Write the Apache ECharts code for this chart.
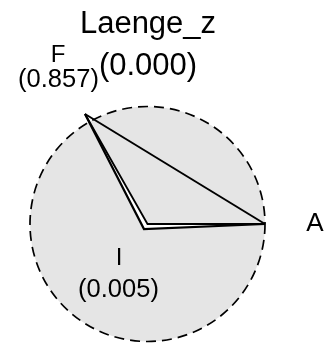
<!DOCTYPE html>
<html>
<head>
<meta charset="utf-8">
<script src="https://cdn.jsdelivr.net/npm/echarts@6/dist/echarts.min.js"></script>
<style>
html,body{margin:0;padding:0;background:#fff;}
#main{width:326px;height:343px;}
</style>
</head>
<body>
<div id="main"></div>
<script>
// ---- data (normalized layout: unit circle centred at origin) ----
const nodeNames  = ['Laenge_z', 'F', 'I', 'A'];
const nodeValues = ['0.000', '0.857', '0.005', null];
const circleNode = [0, 0, 1];                 // x, y, radius
const pathOuter  = [[-0.532, 0.936], [-0.030, -0.043], [1.0, 0.0]]; // F -> I' -> A
const pathInner  = [[-0.532, 0.936], [0.0, 0.0], [1.0, 0.0]];       // F -> I  -> A
const pathDirect = [[-0.532, 0.936], [1.0, 0.0]];                   // F -> A

const chart = echarts.init(document.getElementById('main'), null, {renderer: 'canvas'});
const FONT = 'Liberation Sans, Arial, Helvetica, sans-serif';

const option = {
  backgroundColor: '#ffffff',
  animation: false,
  grid: {left: 0, right: 0, top: 0, bottom: 0},
  xAxis: {type: 'value', min: -1.2553, max: 1.5191, show: false},
  yAxis: {type: 'value', min: -1.0128, max: 1.9064, show: false},
  series: [
    {
      type: 'custom',
      coordinateSystem: 'cartesian2d',
      data: [circleNode],
      silent: true,
      z: 1,
      renderItem: function (params, api) {
        const c = api.coord([api.value(0), api.value(1)]);
        const r = api.size([api.value(2), 0])[0];
        return {
          type: 'circle',
          shape: {cx: c[0], cy: c[1], r: r},
          style: {fill: '#e5e5e5', stroke: '#000', lineWidth: 1.7, lineDash: [10, 6]}
        };
      }
    },
    {
      type: 'custom',
      coordinateSystem: 'cartesian2d',
      data: [[0, 0]],
      silent: true,
      z: 2,
      renderItem: function (params, api) {
        const outer = pathOuter.map(p => api.coord(p));
        const inner = pathInner.map(p => api.coord(p));
        const direct = pathDirect.map(p => api.coord(p));
        return {
          type: 'group',
          children: [
            {type: 'polygon', shape: {points: [outer[0], outer[1], outer[2], inner[1]]},
             style: {fill: '#ffffff', stroke: null}},
            {type: 'polyline', shape: {points: outer}, style: {fill: null, stroke: '#000', lineWidth: 2.2, lineJoin: 'miter'}},
            {type: 'polyline', shape: {points: inner}, style: {fill: null, stroke: '#000', lineWidth: 1.8, lineJoin: 'miter'}},
            {type: 'polyline', shape: {points: direct}, style: {fill: null, stroke: '#000', lineWidth: 2}}
          ]
        };
      }
    }
  ],
  graphic: [
    {type: 'text', x: 148, y: 24, z: 10,
     style: {text: nodeNames[0], font: '31px ' + FONT, fill: '#000', textAlign: 'center', textVerticalAlign: 'middle'}},
    {type: 'text', x: 148, y: 66.5, z: 10,
     style: {text: '(' + nodeValues[0] + ')', font: '31px ' + FONT, fill: '#000', textAlign: 'center', textVerticalAlign: 'middle'}},
    {type: 'text', x: 58, y: 55, z: 10,
     style: {text: nodeNames[1], font: '24px ' + FONT, fill: '#000', textAlign: 'center', textVerticalAlign: 'middle'}},
    {type: 'text', x: 58.5, y: 80, z: 10,
     style: {text: '(' + nodeValues[1] + ')', font: '25.5px ' + FONT, fill: '#000', textAlign: 'center', textVerticalAlign: 'middle'}},
    {type: 'text', x: 119, y: 258, z: 10,
     style: {text: nodeNames[2], font: '24px ' + FONT, fill: '#000', textAlign: 'center', textVerticalAlign: 'middle'}},
    {type: 'text', x: 118.5, y: 290, z: 10,
     style: {text: '(' + nodeValues[2] + ')', font: '25.5px ' + FONT, fill: '#000', textAlign: 'center', textVerticalAlign: 'middle'}},
    {type: 'text', x: 315, y: 224, z: 10,
     style: {text: nodeNames[3], font: '26px ' + FONT, fill: '#000', textAlign: 'center', textVerticalAlign: 'middle'}}
  ]
};
chart.setOption(option);
</script>
</body>
</html>
